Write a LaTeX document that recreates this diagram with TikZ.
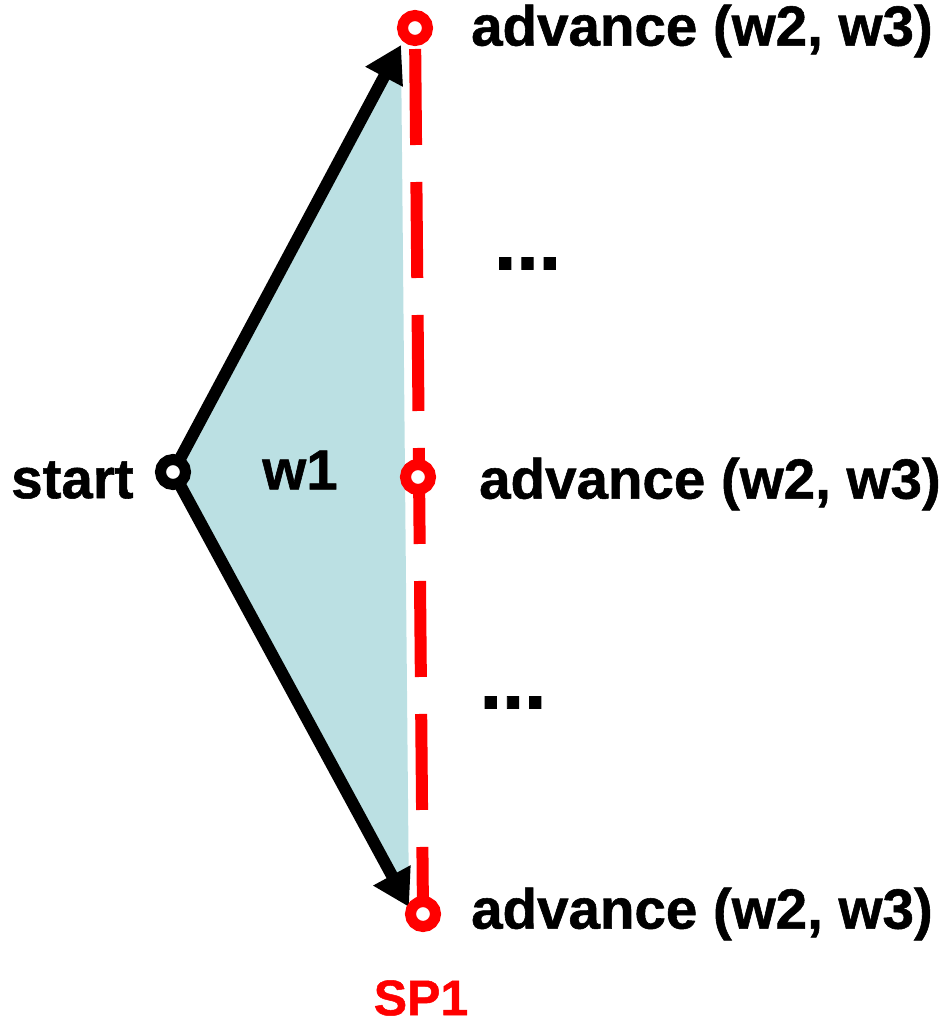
\documentclass[tikz,border=0pt]{standalone}
\usepackage{fontspec}
\setmainfont{Liberation Sans}[BoldFeatures={FakeBold=1}]
\usetikzlibrary{arrows.meta,backgrounds}
\definecolor{fillblue}{RGB}{187,224,227}
\definecolor{pred}{RGB}{255,0,0}
\tikzset{
  ring/.style={circle,draw=#1,fill=white,line width=11pt,minimum size=25pt,inner sep=0pt},
  lbl/.style={font=\fontsize{56.5}{60}\selectfont\bfseries,inner sep=0pt},
  dots/.style={font=\fontsize{80}{80}\selectfont\bfseries,inner sep=0pt},
  blackarrow/.style={draw=black,line width=12pt,-{Triangle[length=36pt,width=40pt]}},
  reddash/.style={draw=pred,line width=12pt,dash pattern=on 96pt off 37pt,dash phase=112pt}
}
\begin{document}
\begin{tikzpicture}[x=1pt,y=-1pt]
\useasboundingbox (0,0) rectangle (946,1025);
\node[ring=black] (s) at (173,472) {};
\node[ring=pred] (t) at (415,28) {};
\node[ring=pred] (m) at (418,477) {};
\node[ring=pred] (b) at (423,914) {};
\coordinate (ttip) at (401,45);
\coordinate (btip) at (409,907);
\begin{pgfonlayer}{background}
\fill[fillblue] (s.center) -- (ttip) -- (btip) -- cycle;
\draw[blackarrow] (s.center) -- (ttip);
\draw[blackarrow] (s.center) -- (btip);
\draw[reddash] (t.center) -- (b.center);
\end{pgfonlayer}
\node[lbl,anchor=west] (lt) at (471,31) {advance (w2, w3)};
\node[lbl,anchor=west] (lm) at (479,484) {advance (w2, w3)};
\node[lbl,anchor=west] (lb) at (471,914) {advance (w2, w3)};
\node[lbl,anchor=west] (ls) at (11,480) {start};
\node[lbl] (w) at (300,470) {w1};
\node[dots] (d1) at (527.5,263.5) {...};
\node[dots] (d2) at (513,702.5) {...};
\node[lbl,text=pred,font=\fontsize{50}{50}\selectfont\bfseries] (sp) at (421,998) {SP1};
\end{tikzpicture}
\end{document}
